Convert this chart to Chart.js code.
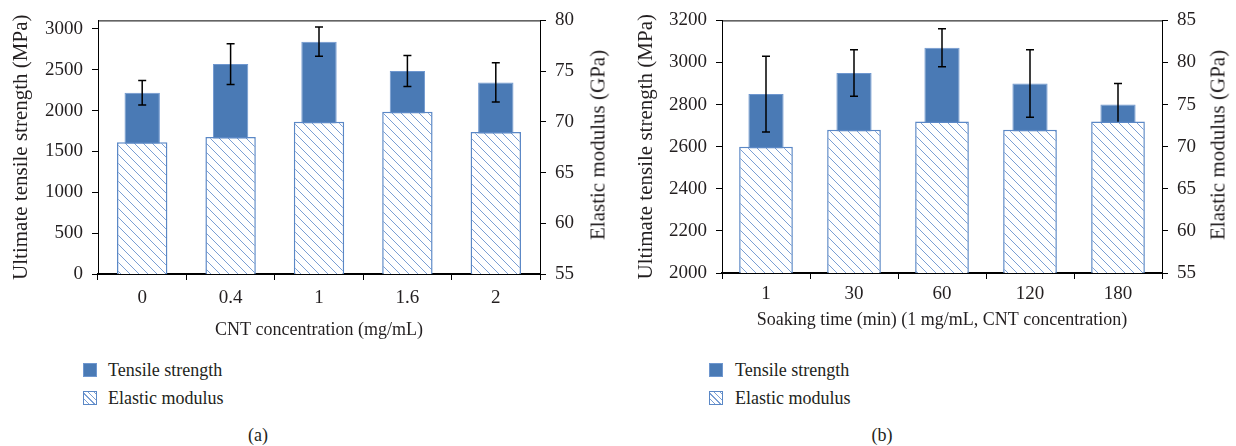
<!DOCTYPE html>
<html lang="en">
<head>
<meta charset="UTF-8">
<title>Tensile strength and elastic modulus</title>
<script src="https://cdn.jsdelivr.net/npm/chart.js@4"></script>
<style>
    body { margin: 0; background: #fff; }
    #wrap { position: relative; width: 1236px; height: 446px; font-family: "Liberation Serif", serif; color: #231f20; }
    canvas { position: absolute; top: 0; }
    .ytitle { position: absolute; font-size: 21px; white-space: nowrap; transform: translate(-50%, -50%) rotate(-90deg); }
    .leg { position: absolute; font-size: 18px; line-height: 20px; white-space: nowrap; }
    .leg span.sw { position: absolute; left: 0; width: 12px; height: 12px; }
    .solid { background: #4a7ab5; border: 1px solid #6f97cf; }
    .hatch { background: repeating-linear-gradient(45deg, #fff 0 3px, #7b9fd4 3px 4px); border: 1px solid #5b88c6; }
    .cap { position: absolute; font-size: 18px; transform: translate(-50%, -50%); }
</style>
</head>
<body>
<div id="wrap">
    <canvas id="chartA" width="618" height="342" style="left:0"></canvas>
    <canvas id="chartB" width="618" height="332" style="left:618px"></canvas>

    <div class="ytitle" style="left:598px; top:145px">Elastic modulus (GPa)</div>
    <div class="ytitle" style="left:1218px; top:145px">Elastic modulus (GPa)</div>

    <!-- legenda (a) -->
    <div class="leg" style="left:83px; top:360px"><span class="sw solid" style="top:3px"></span><span style="margin-left:25px">Tensile strength</span></div>
    <div class="leg" style="left:83px; top:388px"><span class="sw hatch" style="top:3px"></span><span style="margin-left:25px">Elastic modulus</span></div>
    <!-- legenda (b) -->
    <div class="leg" style="left:709px; top:360px"><span class="sw solid" style="top:3px"></span><span style="margin-left:26px">Tensile strength</span></div>
    <div class="leg" style="left:709px; top:388px"><span class="sw hatch" style="top:3px"></span><span style="margin-left:26px">Elastic modulus</span></div>

    <div class="cap" style="left:258px; top:435px">(a)</div>
    <div class="cap" style="left:882px; top:435px">(b)</div>
</div>

<script>
    // dados do painel (a)
    const concLabels = ['0', '0.4', '1', '1.6', '2'];
    const tensileA = [2220, 2570, 2845, 2485, 2345];
    const tensileErrA = [150, 250, 180, 190, 240];
    const modulusA = [68, 68.5, 70, 71, 69];
    const leftTicksA = [0, 500, 1000, 1500, 2000, 2500, 3000];
    const rightTicksA = [55, 60, 65, 70, 75, 80];

    // dados do painel (b)
    const soakLabels = ['1', '30', '60', '120', '180'];
    const tensileB = [2850, 2950, 3070, 2900, 2800];
    const tensileErrB = [180, 110, 90, 160, 100];
    const modulusB = [70, 72, 73, 72, 73];
    const leftTicksB = [2000, 2200, 2400, 2600, 2800, 3000, 3200];
    const rightTicksB = [55, 60, 65, 70, 75, 80, 85];

    Chart.defaults.font.family = 'Liberation Serif';
    Chart.defaults.color = '#231f20';

    function hatchPattern() {
        const s = 9;
        const c = document.createElement('canvas');
        c.width = s; c.height = s;
        const g = c.getContext('2d');
        g.fillStyle = '#fff';
        g.fillRect(0, 0, s, s);
        g.strokeStyle = '#7b9fd4';
        g.lineWidth = 1;
        g.beginPath();
        g.moveTo(0, 0); g.lineTo(s, s);
        g.moveTo(-2, s - 2); g.lineTo(2, s + 2);
        g.moveTo(s - 2, -2); g.lineTo(s + 2, 2);
        g.stroke();
        return g.createPattern(c, 'repeat');
    }

    // barras de erro, desenhadas logo depois das barras cheias
    const errorBars = {
        id: 'errorBars',
        afterDatasetDraw(chart, args) {
            if (args.index !== 0) return;
            const ds = chart.data.datasets[0];
            const ys = chart.scales.y;
            const ctx = chart.ctx;
            ctx.save();
            ctx.strokeStyle = '#000';
            ctx.lineWidth = 1.5;
            args.meta.data.forEach((bar, i) => {
                const top = ys.getPixelForValue(ds.data[i] + ds.errors[i]);
                const bot = ys.getPixelForValue(ds.data[i] - ds.errors[i]);
                ctx.beginPath();
                ctx.moveTo(bar.x, top); ctx.lineTo(bar.x, bot);
                ctx.moveTo(bar.x - 4, top); ctx.lineTo(bar.x + 4, top);
                ctx.moveTo(bar.x - 4, bot); ctx.lineTo(bar.x + 4, bot);
                ctx.stroke();
            });
            ctx.restore();
        }
    };

    // linha de cima do quadro
    const topFrame = {
        id: 'topFrame',
        afterDraw(chart) {
            const a = chart.chartArea;
            const ctx = chart.ctx;
            ctx.save();
            ctx.strokeStyle = '#000';
            ctx.lineWidth = 1;
            ctx.beginPath();
            ctx.moveTo(a.left, a.top + 0.5);
            ctx.lineTo(a.right, a.top + 0.5);
            ctx.stroke();
            ctx.restore();
        }
    };

    const semVirgula = v => String(v);

    function criarGrafico(id, cfg) {
        const ctx = document.getElementById(id);
        new Chart(ctx, {
            type: 'bar',
            data: {
                labels: cfg.labels,
                datasets: [{
                    label: 'Tensile strength',
                    data: cfg.tensile,
                    errors: cfg.errors,
                    yAxisID: 'y',
                    order: 1,
                    backgroundColor: '#4a7ab5',
                    borderColor: '#6f97cf',
                    borderWidth: 1,
                    barPercentage: 0.40,
                    categoryPercentage: 1
                }, {
                    label: 'Elastic modulus',
                    data: cfg.modulus,
                    yAxisID: 'y2',
                    order: 0,
                    backgroundColor: hatchPattern(),
                    borderColor: '#5b88c6',
                    borderWidth: 1.5,
                    barPercentage: cfg.modWidth,
                    categoryPercentage: 1
                }]
            },
            options: {
                responsive: false,
                animation: false,
                grouped: false,
                layout: { padding: { top: 16, left: 0, right: 0, bottom: 0 } },
                plugins: { legend: { display: false }, tooltip: { enabled: false } },
                scales: {
                    x: {
                        z: 1,
                        grid: { drawOnChartArea: false, tickLength: 6, color: '#000' },
                        border: { color: '#000', width: 2 },
                        ticks: { font: { size: 19 }, padding: cfg.xPad },
                        title: { display: true, text: cfg.xTitle, font: { size: 18 }, padding: { top: 0, bottom: 1 } },
                        afterFit(scale) { scale.height = cfg.xHeight; }
                    },
                    y: {
                        position: 'left',
                        min: cfg.leftMin, max: cfg.leftMax,
                        grid: { drawOnChartArea: false, tickLength: 6, color: '#000' },
                        border: { color: '#000', width: 1 },
                        ticks: { font: { size: 19 }, padding: 9, callback: semVirgula },
                        afterBuildTicks(scale) { scale.ticks = cfg.leftTicks.map(v => ({ value: v })); },
                        title: { display: true, text: 'Ultimate tensile strength (MPa)', font: { size: 21 }, padding: { top: cfg.yTitlePad, bottom: 0 } },
                        afterFit(scale) { scale.width = cfg.leftWidth; }
                    },
                    y2: {
                        position: 'right',
                        min: cfg.rightMin, max: cfg.rightMax,
                        grid: { drawOnChartArea: false, tickLength: 6, color: '#000' },
                        border: { color: '#000', width: 1 },
                        ticks: { font: { size: 19 }, padding: 9, callback: semVirgula },
                        afterBuildTicks(scale) { scale.ticks = cfg.rightTicks.map(v => ({ value: v })); },
                        afterFit(scale) { scale.width = cfg.rightWidth; }
                    }
                }
            },
            plugins: [errorBars, topFrame]
        });
    }

    criarGrafico('chartA', {
        labels: concLabels, tensile: tensileA, errors: tensileErrA, modulus: modulusA,
        leftTicks: leftTicksA, rightTicks: rightTicksA,
        leftMin: 0, leftMax: 3105, rightMin: 55, rightMax: 80,
        xTitle: 'CNT concentration (mg/mL)', xHeight: 68, xPad: 7,
        leftWidth: 98, rightWidth: 78, yTitlePad: 9, modWidth: 0.57
    });

    criarGrafico('chartB', {
        labels: soakLabels, tensile: tensileB, errors: tensileErrB, modulus: modulusB,
        leftTicks: leftTicksB, rightTicks: rightTicksB,
        leftMin: 2000, leftMax: 3200, rightMin: 55, rightMax: 85,
        xTitle: 'Soaking time (min) (1 mg/mL, CNT concentration)', xHeight: 59, xPad: 4,
        leftWidth: 104, rightWidth: 74, yTitlePad: 16, modWidth: 0.61
    });
</script>
</body>
</html>
